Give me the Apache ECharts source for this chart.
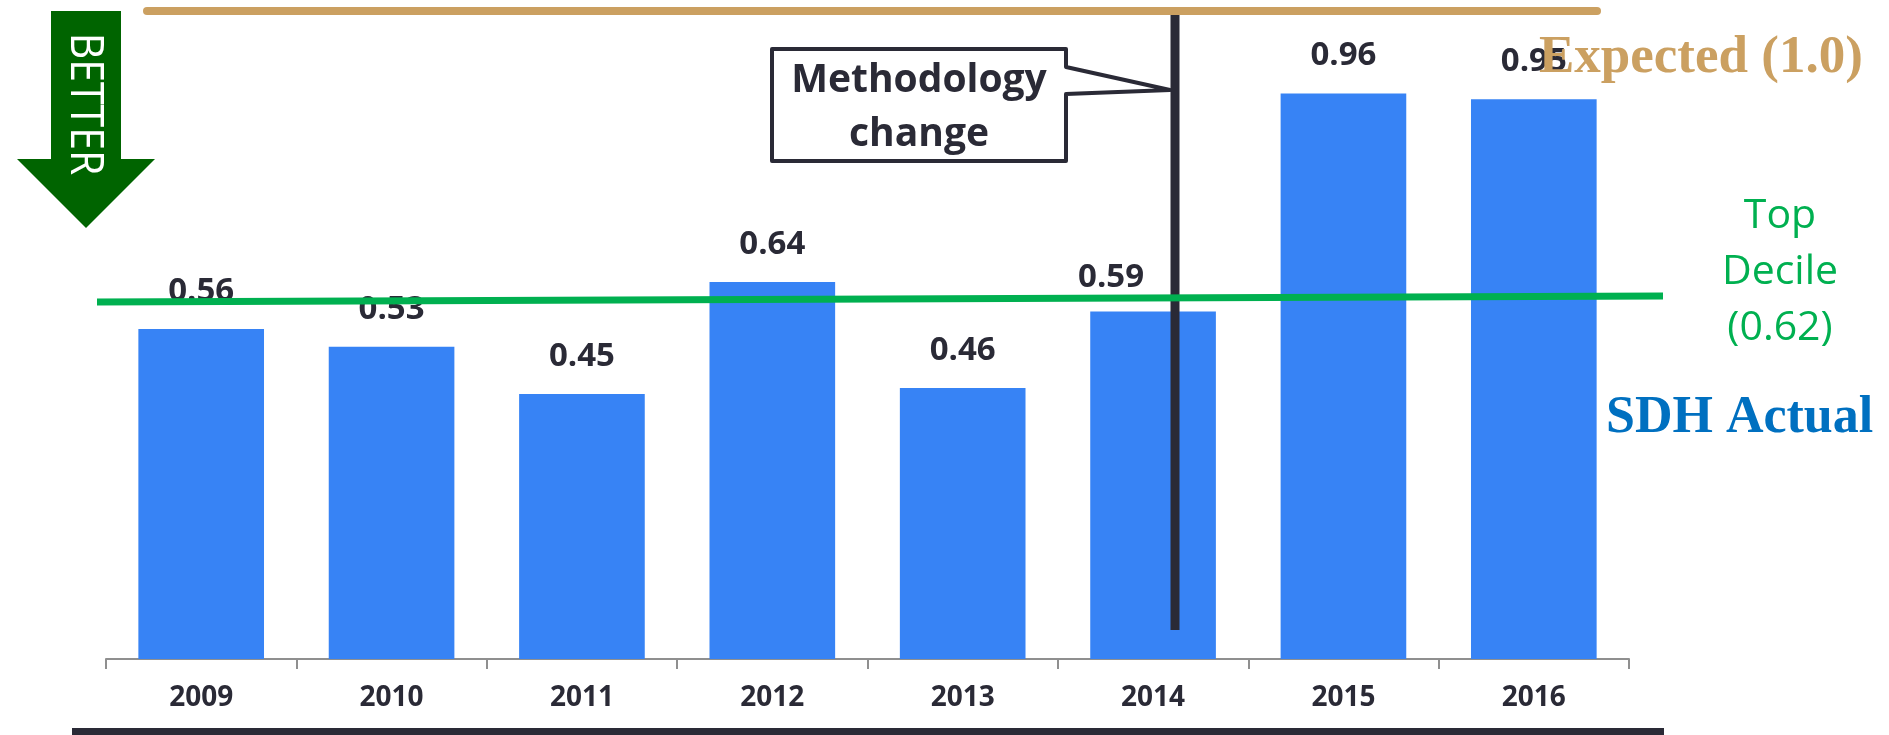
<!DOCTYPE html>
<html>
<head>
<meta charset="utf-8">
<script src="https://cdn.jsdelivr.net/npm/echarts@6/dist/echarts.min.js"></script>
<style>
html,body{margin:0;padding:0;background:#fff;}
#chart{width:1889px;height:735px;}
</style>
</head>
<body>
<div id="chart"></div>
<script>
// ---- data ----
const categories = ['2009', '2010', '2011', '2012', '2013', '2014', '2015', '2016'];
const sdhActual = [0.56, 0.53, 0.45, 0.64, 0.46, 0.59, 0.96, 0.95];
const topDecileLabel = '0.62';
const topDecileDrawn = [0.606, 0.616];   // drawn line, left end / right end
const expectedLabel = '1.0';
const expectedDrawn = 1.1;               // level at which the tan line is drawn

const DARK = '#2a2a36';
const chart = echarts.init(document.getElementById('chart'), null, {renderer: 'canvas'});

// the 2014 label sits left of the methodology marker in the reference
const barData = sdhActual.map((v, i) => categories[i] === '2014'
  ? {value: v, label: {offset: [-42, 4]}}
  : v);

chart.setOption({
  animation: false,
  backgroundColor: '#ffffff',
  grid: {left: 106, right: 260, top: 11, bottom: 76, containLabel: false},
  xAxis: {
    type: 'category',
    data: categories,
    boundaryGap: true,
    axisLine: {show: true, lineStyle: {color: '#8f8f8f', width: 2}},
    axisTick: {show: true, length: 10, inside: false, lineStyle: {color: '#8f8f8f', width: 2}},
    axisLabel: {
      margin: 25, color: DARK, fontFamily: 'Open Sans', fontWeight: 'bold',
      fontSize: 28, lineHeight: 28
    },
    splitLine: {show: false}
  },
  yAxis: {
    type: 'value', min: 0, max: 1.1, show: false, splitLine: {show: false}
  },
  series: [
    {
      type: 'bar',
      data: barData,
      barCategoryGap: '34%',
      itemStyle: {color: '#3783F5'},
      label: {
        show: true, position: 'top', distance: 21,
        color: DARK, fontFamily: 'Open Sans', fontWeight: 'bold',
        fontSize: 33, lineHeight: 33,
        formatter: p => p.value.toFixed(2)
      },
      silent: true,
      markLine: {
        silent: true, symbol: 'none', z: 6,
        label: {show: false},
        emphasis: {disabled: true},
        data: [
          [
            {x: 97, yAxis: topDecileDrawn[0], lineStyle: {color: '#00B050', width: 7, type: 'solid'}},
            {x: 1663, yAxis: topDecileDrawn[1]}
          ],
          [
            {x: 147, yAxis: expectedDrawn, lineStyle: {color: '#CBA061', width: 8, type: 'solid', cap: 'round'}},
            {x: 1597, yAxis: expectedDrawn}
          ]
        ]
      }
    }
  ],
  graphic: [
    // Methodology change vertical marker
    {type: 'line', z: 5, shape: {x1: 1175, y1: 12, x2: 1175, y2: 630},
     style: {stroke: DARK, lineWidth: 9}},
    // callout box
    {type: 'polygon', z: 7,
     shape: {points: [[772, 49], [1066, 49], [1066, 67], [1170, 90], [1066, 94], [1066, 161], [772, 161]]},
     style: {fill: '#ffffff', stroke: DARK, lineWidth: 4, lineJoin: 'round'}},
    {type: 'text', z: 8, x: 919, y: 81,
     style: {text: 'Methodology', fill: DARK, font: 'bold 39px "Open Sans"', align: 'center', verticalAlign: 'middle'}},
    {type: 'text', z: 8, x: 919, y: 135,
     style: {text: 'change', fill: DARK, font: 'bold 39px "Open Sans"', align: 'center', verticalAlign: 'middle'}},
    // BETTER arrow
    {type: 'polygon', z: 7,
     shape: {points: [[51, 11], [121, 11], [121, 159], [155, 159], [86, 228], [17, 159], [51, 159]]},
     style: {fill: '#006400'}},
    {type: 'text', z: 8, x: 84, y: 104, rotation: -Math.PI / 2, scaleY: 1.12,
     style: {text: 'BETTER', fill: '#ffffff', font: '41px "Open Sans"', align: 'center', verticalAlign: 'middle'}},
    // right-hand annotations
    {type: 'text', z: 9, x: 1539, y: 58,
     style: {text: 'Expected (' + expectedLabel + ')', fill: '#CBA061', font: 'bold 53px "Liberation Serif"', align: 'left', verticalAlign: 'middle'}},
    {type: 'text', z: 9, x: 1780, y: 272,
     style: {text: 'Top\nDecile\n(' + topDecileLabel + ')', fill: '#00B050', font: '41px "Open Sans"', lineHeight: 56, align: 'center', verticalAlign: 'middle'}},
    {type: 'text', z: 9, x: 1606, y: 419,
     style: {text: 'SDH Actual', fill: '#0070C0', font: 'bold 52px "Liberation Serif"', align: 'left', verticalAlign: 'middle'}},
    // bottom rule
    {type: 'rect', z: 5, shape: {x: 72, y: 728, width: 1592, height: 8}, style: {fill: DARK}}
  ]
});
</script>
</body>
</html>
